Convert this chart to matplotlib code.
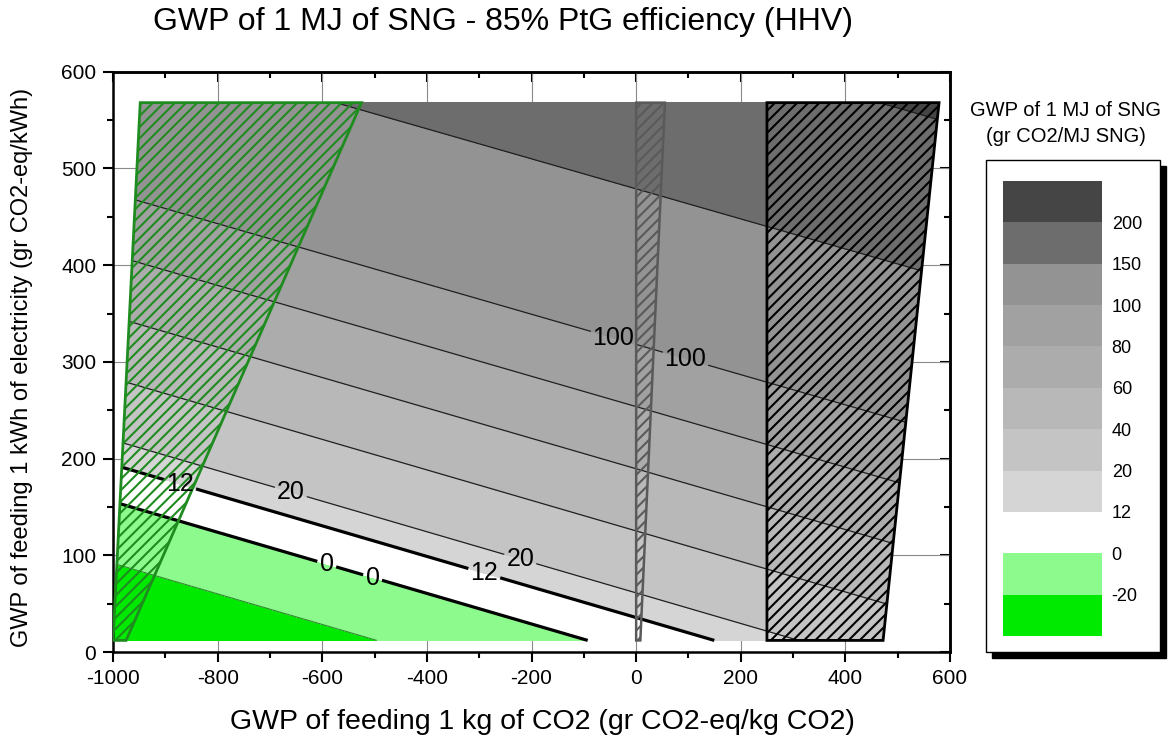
import numpy as np
import matplotlib
matplotlib.use("Agg")
import matplotlib.pyplot as plt
from matplotlib.colors import ListedColormap, BoundaryNorm
from matplotlib.patches import Polygon, Rectangle
from matplotlib.ticker import MultipleLocator

plt.rcParams['font.family'] = ['Liberation Sans', 'DejaVu Sans']
plt.rcParams['hatch.linewidth'] = 1.5
plt.rcParams['axes.unicode_minus'] = False

# Contour levels of the SNG footprint (g CO2-eq per MJ SNG) and their fills
levels = [-20, 0, 12, 20, 40, 60, 80, 100, 150, 200]
band_colors = ['#8cfa8c', '#ffffff', '#d5d5d5', '#c4c4c4', '#b8b8b8',
               '#acacac', '#a1a1a1', '#939393', '#6d6d6d']
under_color = '#00ea00'
over_color = '#454545'

# Edges of the evaluated domain and the footprint at its four corners
elec_limits = [12, 568]            # g CO2-eq/kWh, bottom and top rows
co2_left_edge = [-1000, -948]      # g CO2-eq/kg CO2 at bottom / top
co2_right_edge = [472, 579]
gwp_corners = [[-45.0, 28.0],      # bottom row: left, right
               [132.0, 205.5]]     # top row: left, right

# Line style per level
line_widths = [0.8, 2.3, 2.3, 0.9, 0.9, 0.9, 0.9, 0.9, 0.9, 0.9]
line_colors = ['#2d8a2d', 'black', 'black', '#202020', '#202020', '#202020',
               '#202020', '#202020', '#202020', '#202020']

# Inline contour labels (placed on the 12, 20, 0, 0, 12, 20, 100, 100 lines)
label_spots = [(-872, 173), (-661, 164), (-592, 90), (-504, 77),
               (-290, 82), (-221, 97), (-45, 322), (93, 301)]

# Hatched supply zones
green_zone_x = [-1000, -975, -525, -948]
green_zone_y = [12, 12, 568, 568]
grey_strip_x = [0, 8, 55, 0]
grey_strip_y = [12, 12, 568, 568]
black_zone_x = [250, 472, 579, 250]
black_zone_y = [12, 12, 568, 568]

x_ticks = list(range(-1000, 601, 200))
y_ticks = list(range(0, 601, 100))

fig = plt.figure(figsize=(11.7, 7.4), dpi=100)
ax = fig.add_axes([0.0966, 0.1189, 0.7154, 0.7842])

X = np.array([[co2_left_edge[0], co2_right_edge[0]],
              [co2_left_edge[1], co2_right_edge[1]]], dtype=float)
Y = np.array([[elec_limits[0]] * 2, [elec_limits[1]] * 2], dtype=float)
Z = np.array(gwp_corners)

cmap = ListedColormap(band_colors)
cmap.set_under(under_color)
cmap.set_over(over_color)
norm = BoundaryNorm(levels, cmap.N)

cf = ax.contourf(X, Y, Z, levels=levels, cmap=cmap, norm=norm,
                 extend='both', zorder=1, antialiased=False)
cs = ax.contour(X, Y, Z, levels=levels, colors=line_colors,
                linewidths=line_widths, zorder=2)
ax.clabel(cs, manual=label_spots, inline=True, inline_spacing=3,
          fontsize=18, fmt='%d', colors='black')
for t in cs.labelTexts:
    t.set_rotation(0)

zones = [(green_zone_x, green_zone_y, '#1f8c1f', 2.0),
         (grey_strip_x, grey_strip_y, '#5a5a5a', 1.8),
         (black_zone_x, black_zone_y, '#000000', 2.0)]
for zx, zy, col, lw in zones:
    ax.add_patch(Polygon(np.column_stack([zx, zy]), closed=True,
                         facecolor='none', edgecolor=col, hatch='///',
                         lw=lw, zorder=3))

ax.set_xlim(-1000, 600)
ax.set_ylim(0, 600)
ax.set_xticks(x_ticks)
ax.set_yticks(y_ticks)
ax.xaxis.set_minor_locator(MultipleLocator(100))
ax.yaxis.set_minor_locator(MultipleLocator(50))
ax.set_axisbelow(True)
ax.grid(True, which='major', color='#8a8a8a', lw=0.8)
ax.tick_params(which='both', direction='out', width=1.5, labelsize=15,
               pad=5)
ax.tick_params(which='major', length=7)
ax.tick_params(which='minor', length=4)
for sp in ax.spines.values():
    sp.set_linewidth(1.8)

top = ax.secondary_xaxis('top')
top.set_xticks(x_ticks)
top.xaxis.set_minor_locator(MultipleLocator(100))
top.tick_params(which='both', direction='in', width=1.5, labeltop=False)
top.tick_params(which='major', length=7)
top.tick_params(which='minor', length=4)
top.spines['top'].set_linewidth(1.8)

right = ax.secondary_yaxis('right')
right.set_yticks(y_ticks)
right.yaxis.set_minor_locator(MultipleLocator(50))
right.tick_params(which='both', direction='in', width=1.5, labelright=False)
right.tick_params(which='major', length=7)
right.tick_params(which='minor', length=4)
right.spines['right'].set_linewidth(1.8)

fig.text(0.430, 0.970, 'GWP of 1 MJ of SNG - 85% PtG efficiency (HHV)',
         ha='center', va='center', fontsize=23)
fig.text(0.4632, 0.0243, 'GWP of feeding 1 kg of CO2 (gr CO2-eq/kg CO2)',
         ha='center', va='center', fontsize=20.5)
fig.text(0.0188, 0.5034, 'GWP of feeding 1 kWh of electricity (gr CO2-eq/kWh)',
         ha='center', va='center', rotation=90, fontsize=17)

# Colour key
fx0, fy0, fw, fh = 986 / 1170, 1 - 652 / 740, 174 / 1170, 492 / 740
shadow = Rectangle((fx0 + 6 / 1170, fy0 - 6 / 740), fw, fh,
                   transform=fig.transFigure, facecolor='black',
                   edgecolor='black', zorder=-2)
frame = Rectangle((fx0, fy0), fw, fh, transform=fig.transFigure,
                  facecolor='white', edgecolor='black', lw=1.0, zorder=-1)
fig.add_artist(shadow)
fig.add_artist(frame)

cax = fig.add_axes([1003 / 1170, 1 - 636 / 740, 99 / 1170, 455 / 740])
cax.patch.set_visible(False)
cb = fig.colorbar(cf, cax=cax, ticks=levels, extendrect=True,
                  extendfrac=1 / 9, spacing='uniform')
cb.outline.set_visible(False)
cb.set_ticklabels([str(v) for v in levels])
cax.tick_params(length=0, labelsize=13, pad=7)

fig.text(1066 / 1170, 1 - 110 / 740, 'GWP of 1 MJ of SNG',
         ha='center', va='center', fontsize=14.5)
fig.text(1066 / 1170, 1 - 137 / 740, '(gr CO2/MJ SNG)',
         ha='center', va='center', fontsize=14.5)

fig.savefig('out.png', dpi=100)
